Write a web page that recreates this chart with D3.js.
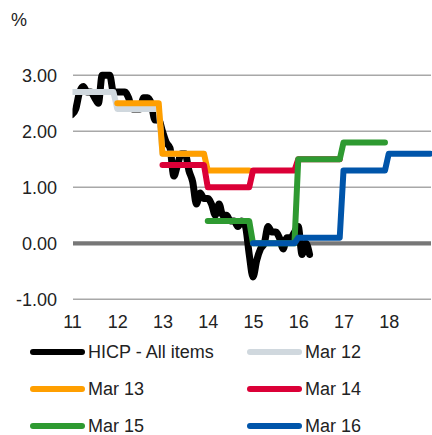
<!DOCTYPE html>
<html>
<head>
<meta charset="utf-8">
<script src="https://cdn.jsdelivr.net/npm/d3@7"></script>
<style>
  body { margin: 0; background: #fff; }
  svg { display: block; font-family: "Liberation Sans", Arial, sans-serif; }
</style>
</head>
<body>
<svg id="chart" width="432" height="435"></svg>
<script>
// HICP annual rate, monthly, Jan 2011 - Apr 2016
const hicp = [
  2.3, 2.4, 2.7, 2.8, 2.7, 2.7, 2.6, 2.5, 3.0, 3.0, 3.0, 2.7,
  2.7, 2.7, 2.7, 2.6, 2.4, 2.4, 2.4, 2.6, 2.6, 2.5, 2.2, 2.2,
  2.0, 1.8, 1.7, 1.2, 1.4, 1.6, 1.6, 1.3, 1.1, 0.7, 0.9, 0.8,
  0.8, 0.7, 0.5, 0.7, 0.5, 0.5, 0.4, 0.4, 0.3, 0.4, 0.3, -0.2,
  -0.6, -0.3, -0.1, 0.0, 0.3, 0.2, 0.2, 0.1, -0.1, 0.1, 0.1, 0.2,
  0.3, -0.2, 0.0, -0.2
];
const hicpStart = 2011;

// March projections: annual values, first year
const mar12 = [2.7, 2.4, 1.6];
const mar13 = [2.5, 1.6, 1.3];
const mar14 = [1.4, 1.0, 1.3, 1.5];
const mar15 = [0.4, 0.0, 1.5, 1.8];
const mar16 = [0.0, 0.1, 1.3, 1.6];
const projStart = [2011, 2012, 2013, 2014, 2015];

const seriesNames = ["HICP - All items", "Mar 12", "Mar 13", "Mar 14", "Mar 15", "Mar 16"];
const seriesColors = ["#000000", "#d0d8de", "#ff9f00", "#db0037", "#2e9a31", "#0055aa"];

const yTicks = [-1, 0, 1, 2, 3];
const xTicks = [2011, 2012, 2013, 2014, 2015, 2016, 2017, 2018];

const svg = d3.select("#chart");

const x = d3.scaleLinear().domain([2011, 2019]).range([72, 434]);
const y = d3.scaleLinear().domain([-1, 3]).range([299.3, 75.3]);

svg.append("defs").append("clipPath").attr("id", "plot")
  .append("rect").attr("x", 72.5).attr("y", 0).attr("width", 360).attr("height", 435);

// gridlines
svg.append("g").selectAll("line")
  .data(yTicks)
  .join("line")
  .attr("x1", 73).attr("x2", 431)
  .attr("y1", d => y(d)).attr("y2", d => y(d))
  .style("stroke", d => d == 0 ? "#777777" : "#a8a8a8")
  .style("stroke-width", d => d == 0 ? 4.3 : 1.5);

const fmt = v => d3.format(".2f")(v).replace("\u2212", "-");

const yAxis = svg.append("g")
  .attr("transform", "translate(73,0)")
  .call(d3.axisLeft(y).tickValues(yTicks).tickSize(0).tickPadding(16).tickFormat(fmt));
yAxis.select(".domain").remove();

const xAxis = svg.append("g")
  .attr("transform", "translate(0,313)")
  .call(d3.axisBottom(x).tickValues(xTicks).tickSize(0).tickPadding(2).tickFormat(d => String(d).slice(2)));
xAxis.select(".domain").remove();

svg.selectAll(".tick text")
  .style("font-size", "18px")
  .style("fill", "#222")
  .style("font-family", "Liberation Sans, Arial, sans-serif");

svg.append("text")
  .attr("x", 11).attr("y", 26)
  .style("font-size", "18px")
  .style("fill", "#222")
  .text("%");

// monthly points
function monthly(values, start) {
  let pts = [];
  values.forEach((v, i) => {
    for (let m = 0; m < 12; m++) pts.push([start + i + m / 12, v]);
  });
  return pts;
}

const hicpPts = hicp.map((v, i) => [hicpStart + i / 12, v]);
const projections = [mar12, mar13, mar14, mar15, mar16];

const plot = svg.append("g").attr("clip-path", "url(#plot)");

const smooth = d3.line().x(d => x(d[0])).y(d => y(d[1])).curve(d3.curveMonotoneX);
const step = d3.line().x(d => x(d[0])).y(d => y(d[1]));

plot.append("path")
  .attr("d", smooth(hicpPts))
  .style("fill", "none")
  .style("stroke", seriesColors[0])
  .style("stroke-width", 7)
  .style("stroke-linejoin", "round")
  .style("stroke-linecap", "round");

projections.forEach((p, i) => {
  plot.append("path")
    .attr("d", step(monthly(p, projStart[i])))
    .style("fill", "none")
    .style("stroke", seriesColors[i + 1])
    .style("stroke-width", 6)
    .style("stroke-linejoin", "round")
    .style("stroke-linecap", "round");
});

// legend
const legend = svg.append("g");
seriesNames.forEach((name, i) => {
  let col = i % 2;
  let row = Math.floor(i / 2);
  let lx = col == 0 ? 33 : 250;
  let ly = [352, 389, 426][row];
  legend.append("line")
    .attr("x1", lx).attr("x2", lx + 49)
    .attr("y1", ly).attr("y2", ly)
    .style("stroke", seriesColors[i])
    .style("stroke-width", 6)
    .style("stroke-linecap", "round");
  legend.append("text")
    .attr("x", lx + 55)
    .attr("y", ly)
    .attr("dy", "0.36em")
    .style("font-size", "18px")
    .style("fill", "#222")
    .text(name);
});
</script>
</body>
</html>
